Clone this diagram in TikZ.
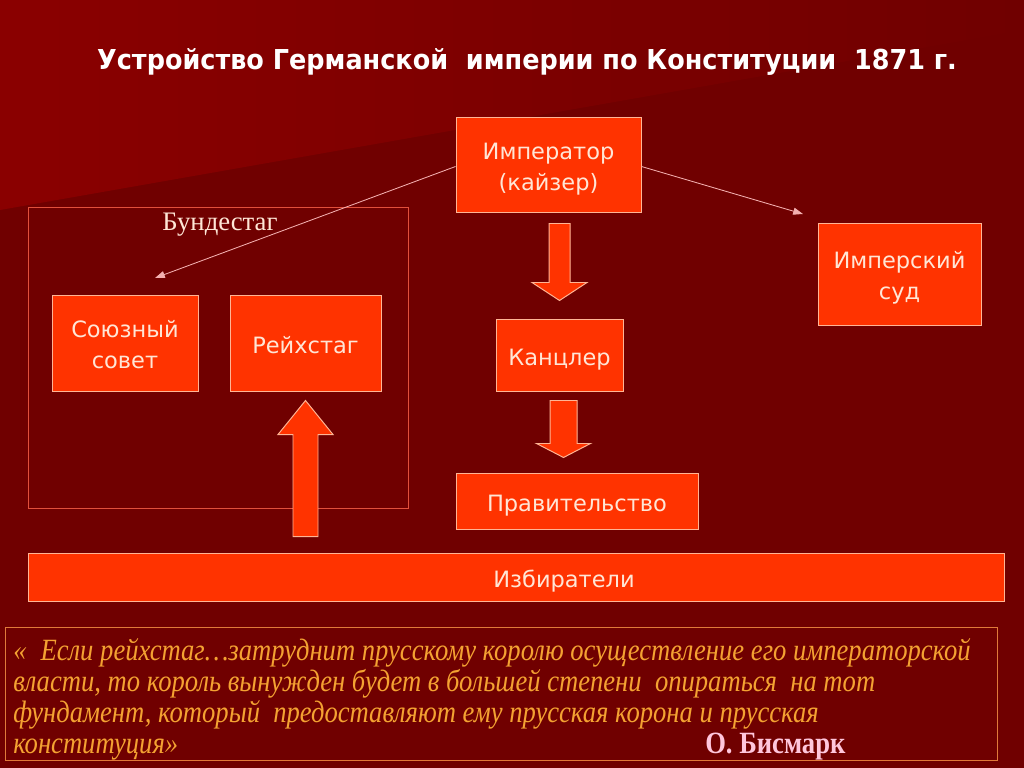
\documentclass[tikz,border=0pt]{standalone}
\usepackage{fontspec}
\setmainfont{Liberation Serif}
\setsansfont{DejaVu Sans}
\newfontfamily\titlefont{DejaVu Sans}[FakeStretch=0.93]
\newfontfamily\quotefont{Liberation Serif}[FakeStretch=0.86]
\usetikzlibrary{arrows.meta, positioning, calc}

\newlength\pxu
\setlength\pxu{0.025cm}
% text of a box, set a little low as on the slide
\newcommand\boxlines[1]{\raisebox{-4\pxu}[\height][\depth]{\begin{tabular}{@{}c@{}}#1\end{tabular}}}

\definecolor{bgdark}{HTML}{700000}
\definecolor{bglight}{HTML}{8A0000}
\definecolor{boxred}{HTML}{FF3300}
\definecolor{boxline}{HTML}{FFB595}
\definecolor{boxtext}{HTML}{FFE6D6}
\definecolor{frameline}{HTML}{E2503C}
\definecolor{quotetext}{HTML}{F4A232}
\definecolor{quoteline}{HTML}{E07A3A}
\definecolor{signtext}{HTML}{FFC6DC}
\definecolor{linkline}{HTML}{F4B0B0}

\tikzset{
  organ/.style={draw=boxline, line width=0.7pt, fill=boxred, text=boxtext,
    font=\sffamily\fontsize{16}{22}\selectfont, inner sep=0pt},
  fat/.style={draw=boxline, line width=0.7pt, fill=boxred},
  link/.style={draw=linkline, line width=0.6pt, -{Triangle[length=7pt,width=5pt]}},
}

\begin{document}
\begin{tikzpicture}[x=\pxu, y=-\pxu]
    % background
    \fill[bgdark] (0,0) rectangle (1024,768);
    \shade[left color=bglight, right color=bgdark] (0,0) -- (1024,0) -- (1024,30) -- (0,210) -- cycle;
    \useasboundingbox (0,0) rectangle (1024,768);

    \node[text=white, font=\titlefont\bfseries\fontsize{19.5}{24}\selectfont] (title) at (527,62)
        {Устройство Германской~ империи по Конституции~ 1871~г.};

    % boxes
    \node[organ, minimum width=185\pxu, minimum height=95\pxu] (emp) at (548.5,164.5) {\boxlines{Император\\(кайзер)}};
    \node[organ, minimum width=163\pxu, minimum height=102\pxu] (court) at (899.5,274) {\boxlines{Имперский\\суд}};
    \node[draw=frameline, line width=0.6pt, minimum width=380\pxu, minimum height=301\pxu] (bund) at (218,357.5) {};
    \node[text=boxtext, font=\fontsize{19}{22}\selectfont, anchor=north] (bundlab) at (220,208) {Бундестаг};
    \node[organ, minimum width=146\pxu, minimum height=96\pxu] (sov) at (125,343) {\boxlines{Союзный\\совет}};
    \node[organ, minimum width=151\pxu, minimum height=96\pxu] (reich) at (305.5,343) {\boxlines{Рейхстаг}};
    \node[organ, minimum width=127\pxu, minimum height=72\pxu] (kanz) at (559.5,355) {\boxlines{Канцлер}};
    \node[organ, minimum width=242\pxu, minimum height=56\pxu] (prav) at (577,501) {\boxlines{Правительство}};
    \node[organ, minimum width=976\pxu, minimum height=48\pxu] (izb) at (516,577) {\hspace*{96\pxu}\boxlines{Избиратели}};

    % thin arrows
    \coordinate (sovtip) at (155,278);
    \coordinate (courttip) at (803,214);
    \draw[link] ([yshift=-2\pxu]emp.west) -- (sovtip);
    \draw[link] ([yshift=-2\pxu]emp.east) -- (courttip);

    % block arrows
    \draw[fat] ($(emp.south)+(0.5,11)$) -- ++(21,0) -- ++(0,59) -- ++(17,0) -- ++(-27.5,18)
        -- ++(-27.5,-18) -- ++(17,0) -- cycle;
    \draw[fat] ($(kanz.south)+(-9.5,9)$) -- ++(27,0) -- ++(0,43) -- ++(13.5,0) -- ++(-27,14)
        -- ++(-27,-14) -- ++(13.5,0) -- cycle;
    \draw[fat] ($(izb.north)+(-223,-16)$) -- ++(0,-102) -- ++(-15,0) -- ++(27.5,-34)
        -- ++(27.5,34) -- ++(-15,0) -- ++(0,102) -- cycle;

    % quote
    \node[draw=quoteline, line width=0.6pt, minimum width=992\pxu, minimum height=133\pxu] (qbox) at (501,693.5) {};
    \node[text=quotetext, font=\quotefont\itshape\fontsize{22}{22}\selectfont, align=left, anchor=north west, inner sep=0pt]
        (quote) at (13,638) {«\hspace{14\pxu}Если рейхстаг\ldots затруднит прусскому королю осуществление его императорской\\
        власти, то король вынужден будет в большей степени~ опираться~ на тот\\
        фундамент, который~ предоставляют ему прусская корона и прусская\\
        \makebox[692\pxu][l]{конституция»}{\upshape\bfseries\color{signtext}О. Бисмарк}};
\end{tikzpicture}
\end{document}
